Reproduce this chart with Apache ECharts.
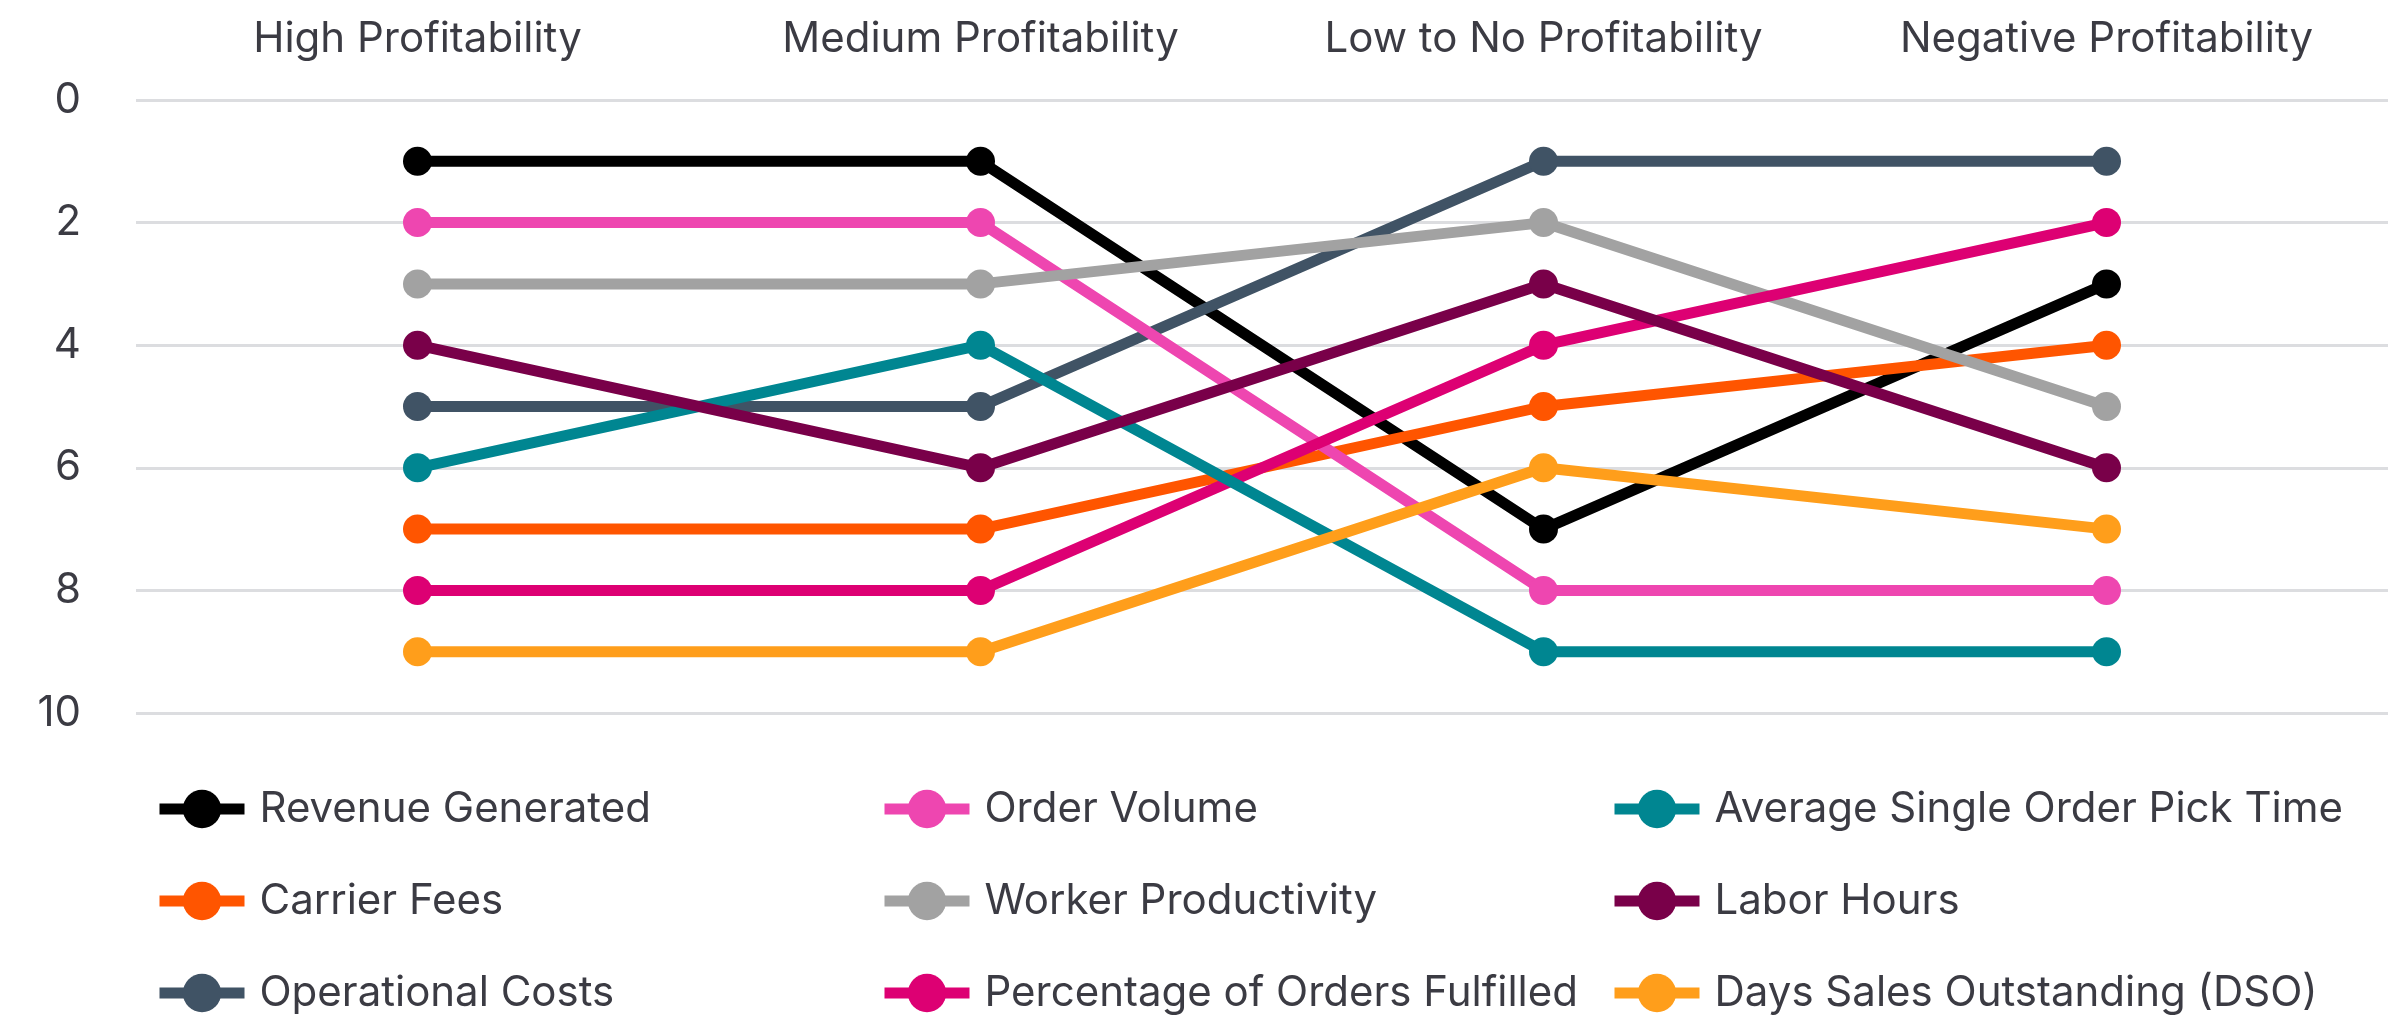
<!DOCTYPE html>
<html>
<head>
<meta charset="utf-8">
<style>
  html, body { margin: 0; padding: 0; background: #fff; }
  #chart { width: 2392px; height: 1019px; }
</style>
<script src="https://cdn.jsdelivr.net/npm/echarts@6/dist/echarts.min.js"></script>
</head>
<body>
<div id="chart"></div>
<script>
// Profitability tiers (x axis, shown across the top)
const tiers = ['High Profitability', 'Medium Profitability', 'Low to No Profitability', 'Negative Profitability'];

// Rank of each metric within each tier (1 = top)
const revenueGenerated      = [1, 1, 7, 3];
const carrierFees           = [7, 7, 5, 4];
const operationalCosts      = [5, 5, 1, 1];
const orderVolume           = [2, 2, 8, 8];
const workerProductivity    = [3, 3, 2, 5];
const ordersFulfilledPct    = [8, 8, 4, 2];
const avgSingleOrderPick    = [6, 4, 9, 9];
const laborHours            = [4, 6, 3, 6];
const daysSalesOutstanding  = [9, 9, 6, 7];

// Rank axis ticks
const rankMin = 0, rankMax = 10, rankStep = 2;

const metrics = [
  { name: 'Revenue Generated', data: revenueGenerated, color: '#000000' },
  { name: 'Carrier Fees', data: carrierFees, color: '#FF5500' },
  { name: 'Operational Costs', data: operationalCosts, color: '#405365' },
  { name: 'Order Volume', data: orderVolume, color: '#EE46B0' },
  { name: 'Worker Productivity', data: workerProductivity, color: '#A2A2A2' },
  { name: 'Percentage of Orders Fulfilled', data: ordersFulfilledPct, color: '#DD0073' },
  { name: 'Average Single Order Pick Time', data: avgSingleOrderPick, color: '#008691' },
  { name: 'Labor Hours', data: laborHours, color: '#790049' },
  { name: 'Days Sales Outstanding (DSO)', data: daysSalesOutstanding, color: '#FF9E1B' }
];

const textColor = '#3b3b43';
const fontFamily = 'Inter, "Noto Sans", sans-serif';
const fontSize = 42;
const lineWidth = 11;

const legendColumns = [
  { left: 154, names: ['Revenue Generated', 'Carrier Fees', 'Operational Costs'] },
  { left: 879, names: ['Order Volume', 'Worker Productivity', 'Percentage of Orders Fulfilled'] },
  { left: 1609, names: ['Average Single Order Pick Time', 'Labor Hours', 'Days Sales Outstanding (DSO)'] }
];

const chart = echarts.init(document.getElementById('chart'), null, { renderer: 'canvas' });

chart.setOption({
  animation: false,
  backgroundColor: '#ffffff',
  textStyle: { fontFamily: fontFamily },
  grid: { left: 136, right: 4, top: 100, bottom: 306 },
  legend: legendColumns.map(col => ({
    orient: 'vertical',
    left: col.left,
    top: 788,
    height: 400,
    padding: 0,
    itemWidth: 85,
    itemHeight: 48,
    itemGap: 50,
    data: col.names,
    lineStyle: { width: lineWidth },
    textStyle: {
      fontSize: fontSize,
      color: textColor,
      fontFamily: fontFamily,
      padding: [0, 0, 0, 10]
    }
  })),
  xAxis: {
    type: 'category',
    position: 'top',
    data: tiers,
    boundaryGap: true,
    axisLine: { show: false },
    axisTick: { show: false },
    axisLabel: {
      fontSize: fontSize,
      color: textColor,
      margin: 40,
      interval: 0
    },
    splitLine: { show: false }
  },
  yAxis: {
    type: 'value',
    inverse: true,
    min: rankMin,
    max: rankMax,
    interval: rankStep,
    axisLine: { show: false },
    axisTick: { show: false },
    axisLabel: {
      fontSize: fontSize,
      color: textColor,
      margin: 55
    },
    splitLine: { lineStyle: { color: '#dcdde0', width: 3 } }
  },
  series: metrics.map(m => ({
    name: m.name,
    type: 'line',
    data: m.data,
    symbol: 'circle',
    symbolSize: 29,
    color: m.color,
    lineStyle: { width: lineWidth, color: m.color },
    itemStyle: { color: m.color }
  }))
});
</script>
</body>
</html>
